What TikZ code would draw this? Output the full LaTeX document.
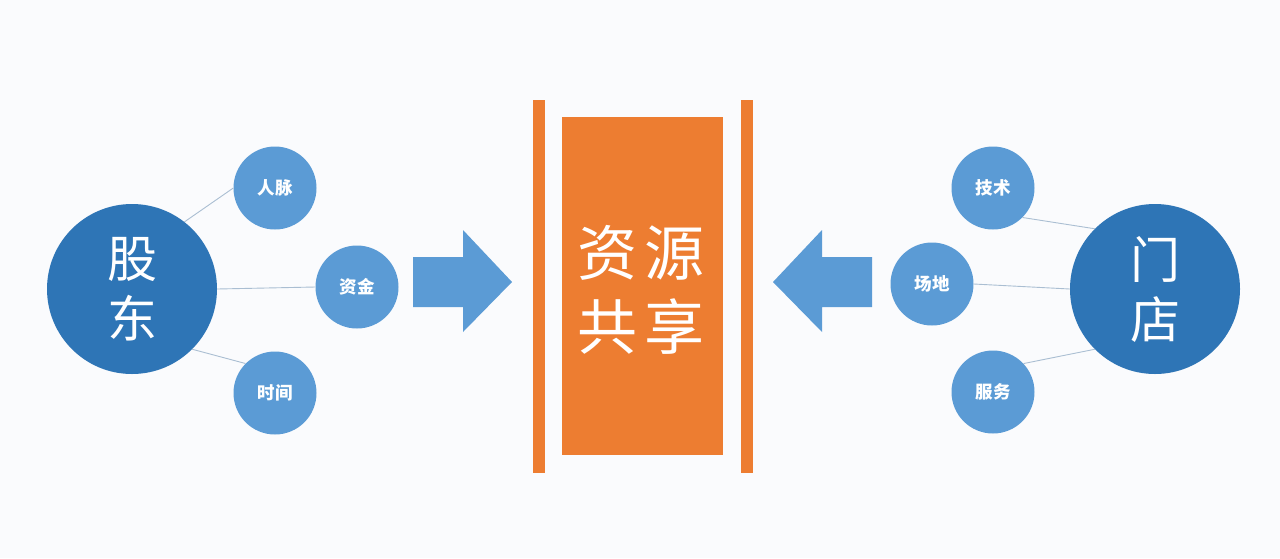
\documentclass[tikz,border=0pt]{standalone}
\usepackage{fontspec}
\newfontfamily\cjk{Noto Sans CJK SC}
\definecolor{hubblue}{RGB}{46,117,182}
\definecolor{resblue}{RGB}{91,155,213}
\definecolor{shareorange}{RGB}{237,125,49}
\definecolor{linkgray}{RGB}{170,190,210}
\definecolor{bggray}{RGB}{250,251,253}

\begin{document}
\begin{tikzpicture}[x=1pt,y=-1pt,
  hub/.style={circle,fill=hubblue,minimum size=170pt,inner sep=0pt,text=white,align=center,font=\cjk\fontsize{50}{60}\selectfont},
  res/.style={circle,fill=resblue,minimum size=83pt,inner sep=0pt,text=white,font=\cjk\bfseries\fontsize{17.5}{18}\selectfont},
  link/.style={draw=linkgray,line width=0.9pt},
  bar/.style={fill=shareorange,inner sep=0pt,minimum width=12pt,minimum height=373pt}]
\fill[bggray] (0,0) rectangle (1280,558);

% shareholders
\node[hub] at (132,289) (gd) {股\\东};
\node[res] at (275,188) (rm) {人脉};
\node[res] at (357,287) (zj) {资金};
\node[res] at (275,393) (sj) {时间};
\draw[link] (gd.52) -- (rm.west);
\draw[link] (gd.east) -- (zj.west);
\draw[link] (gd.-45) -- (sj.135);

% store
\node[hub] at (1155,289) (md) {门\\店};
\node[res] at (993,188) (js) {技术};
\node[res] at (932,284) (cd) {场地};
\node[res] at (993,392) (fw) {服务};
\draw[link] (js.-45) -- (md.135);
\draw[link] (cd.east) -- (md.west);
\draw[link] (fw.43) -- (md.225);

% resource sharing
\node[bar] at (539,286.5) (lb) {};
\node[bar] at (746.5,286.5) (rb) {};
\node[fill=shareorange,inner sep=0pt,minimum width=161pt,minimum height=338pt] at (642.5,286) (gx) {};
\node[text=white,align=center,font=\cjk\fontsize{60}{74}\selectfont] at (641,290) (gxt) {资\hspace{8pt}源\\共\hspace{8pt}享};

% arrows
\fill[resblue] (413,257) -- (463,257) -- (463,230) -- (512,282) -- (463,332) -- (463,307) -- (413,307) -- cycle;
\fill[resblue] (872,257) -- (822,257) -- (822,230) -- (773,282) -- (822,332) -- (822,307) -- (872,307) -- cycle;
\end{tikzpicture}
\end{document}
